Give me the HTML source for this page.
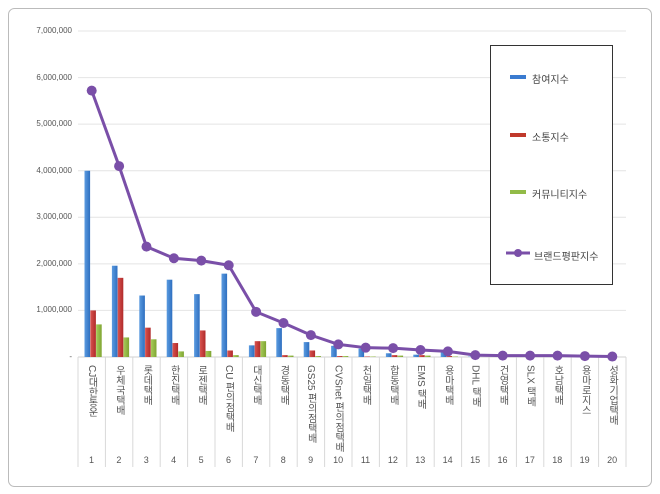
<!DOCTYPE html>
<html><head><meta charset="utf-8"><style>
body{margin:0;background:#fff;font-family:"Liberation Sans","Noto Sans CJK KR",sans-serif;}
#c{position:relative;width:660px;height:494px;overflow:hidden;}
.lab{position:absolute;top:365px;writing-mode:vertical-rl;font-size:10px;color:#555;line-height:11px;}
.num{position:absolute;top:455px;font-size:9px;color:#555;width:27px;text-align:center;}
.yl{position:absolute;left:0;width:72px;text-align:right;font-size:8px;color:#555;}
.lg{position:absolute;font-size:10px;color:#444;}
</style></head><body><div id="c">
<svg id="s" width="660" height="494" style="position:absolute;left:0;top:0"></svg>
</div>
<script>
var s=document.getElementById('s'),c=document.getElementById('c');
var X0=78,W=27.4,Y0=357,K=46.57;
var d=[[4,1,.7,5.72],[1.96,1.7,.42,4.1],[1.32,.63,.38,2.37],[1.66,.3,.12,2.12],[1.35,.57,.13,2.07],[1.79,.14,.04,1.97],[.25,.34,.34,.97],[.62,.04,.03,.73],[.32,.14,.02,.47],[.24,.02,.02,.27],[.18,.01,.01,.2],[.08,.04,.03,.19],[.05,.04,.03,.15],[.12,.02,.01,.12],[.01,0,0,.04],[.01,0,0,.03],[.01,0,0,.03],[.01,0,0,.03],[.01,0,0,.02],[.01,0,0,.01]];
var names=["CJ대한통운","우체국택배","롯데택배","한진택배","로젠택배","CU 편의점택배","대신택배","경동택배","GS25 편의점택배","CVSnet 편의점택배","천일택배","합동택배","EMS 택배","용마택배","DHL 택배","건영택배","SLX 택배","호남택배","용마로지스","성화기업택배"];
var h='<rect x="8.5" y="8.5" width="643" height="478" rx="6" fill="#fff" stroke="#bbb"/>';
for(var i=1;i<=7;i++){var y=Y0-i*K;h+='<line x1="'+X0+'" x2="626" y1="'+y+'" y2="'+y+'" stroke="#e4e4e4"/>';}
h+='<line x1="'+X0+'" x2="626" y1="'+Y0+'" y2="'+Y0+'" stroke="#d0d0d0"/>';
for(var i=0;i<=20;i++){var x=X0+i*W;h+='<line x1="'+x+'" x2="'+x+'" y1="'+Y0+'" y2="467" stroke="#d8d8d8"/>';}
var cols=[["#2e6fc0","#5b9be0"],["#b02a2a","#d9534f"],["#7fa532","#a8cc5a"]];
h+='<defs>';cols.forEach(function(cc,k){h+='<linearGradient id="g'+k+'" x1="0" x2="1"><stop offset="0" stop-color="'+cc[1]+'"/><stop offset="1" stop-color="'+cc[0]+'"/></linearGradient>';});h+='</defs>';
var pts=[];
d.forEach(function(v,i){var x=X0+i*W+6.5;for(var k=0;k<3;k++){var bh=v[k]*K;if(bh>0.3)h+='<rect x="'+(x+k*5.8)+'" y="'+(Y0-bh)+'" width="5.6" height="'+bh+'" fill="url(#g'+k+')"/>';}pts.push((X0+i*W+W/2)+','+(Y0-v[3]*K));});
h+='<polyline points="'+pts.join(' ')+'" fill="none" stroke="#7a4fa8" stroke-width="3"/>';
pts.forEach(function(p){var a=p.split(',');h+='<circle cx="'+a[0]+'" cy="'+a[1]+'" r="5" fill="#7a4fa8"/>';});
h+='<rect x="490.5" y="45.5" width="122" height="239" fill="#fff" stroke="#333"/>';
h+='<rect x="510" y="75" width="16" height="4" fill="#3a7bd0"/><rect x="510" y="133" width="16" height="4" fill="#c0392b"/><rect x="510" y="190" width="16" height="4" fill="#92bb48"/>';
h+='<line x1="506" x2="530" y1="253" y2="253" stroke="#7a4fa8" stroke-width="3"/><circle cx="518" cy="253" r="4" fill="#7a4fa8"/>';
s.innerHTML=h;
var t='';
var yl=["-","1,000,000","2,000,000","3,000,000","4,000,000","5,000,000","6,000,000","7,000,000"];
yl.forEach(function(l,i){t+='<div class="yl" style="top:'+(Y0-i*K-5)+'px">'+l+'</div>';});
names.forEach(function(n,i){var x=X0+i*W;t+='<div class="lab" style="left:'+(x+8)+'px">'+n+'</div><div class="num" style="left:'+x+'px">'+(i+1)+'</div>';});
t+='<div class="lg" style="left:532px;top:71px">참여지수</div><div class="lg" style="left:532px;top:129px">소통지수</div><div class="lg" style="left:532px;top:186px">커뮤니티지수</div><div class="lg" style="left:534px;top:248px">브랜드평판지수</div>';
c.insertAdjacentHTML('beforeend',t);
</script>
</body></html>
